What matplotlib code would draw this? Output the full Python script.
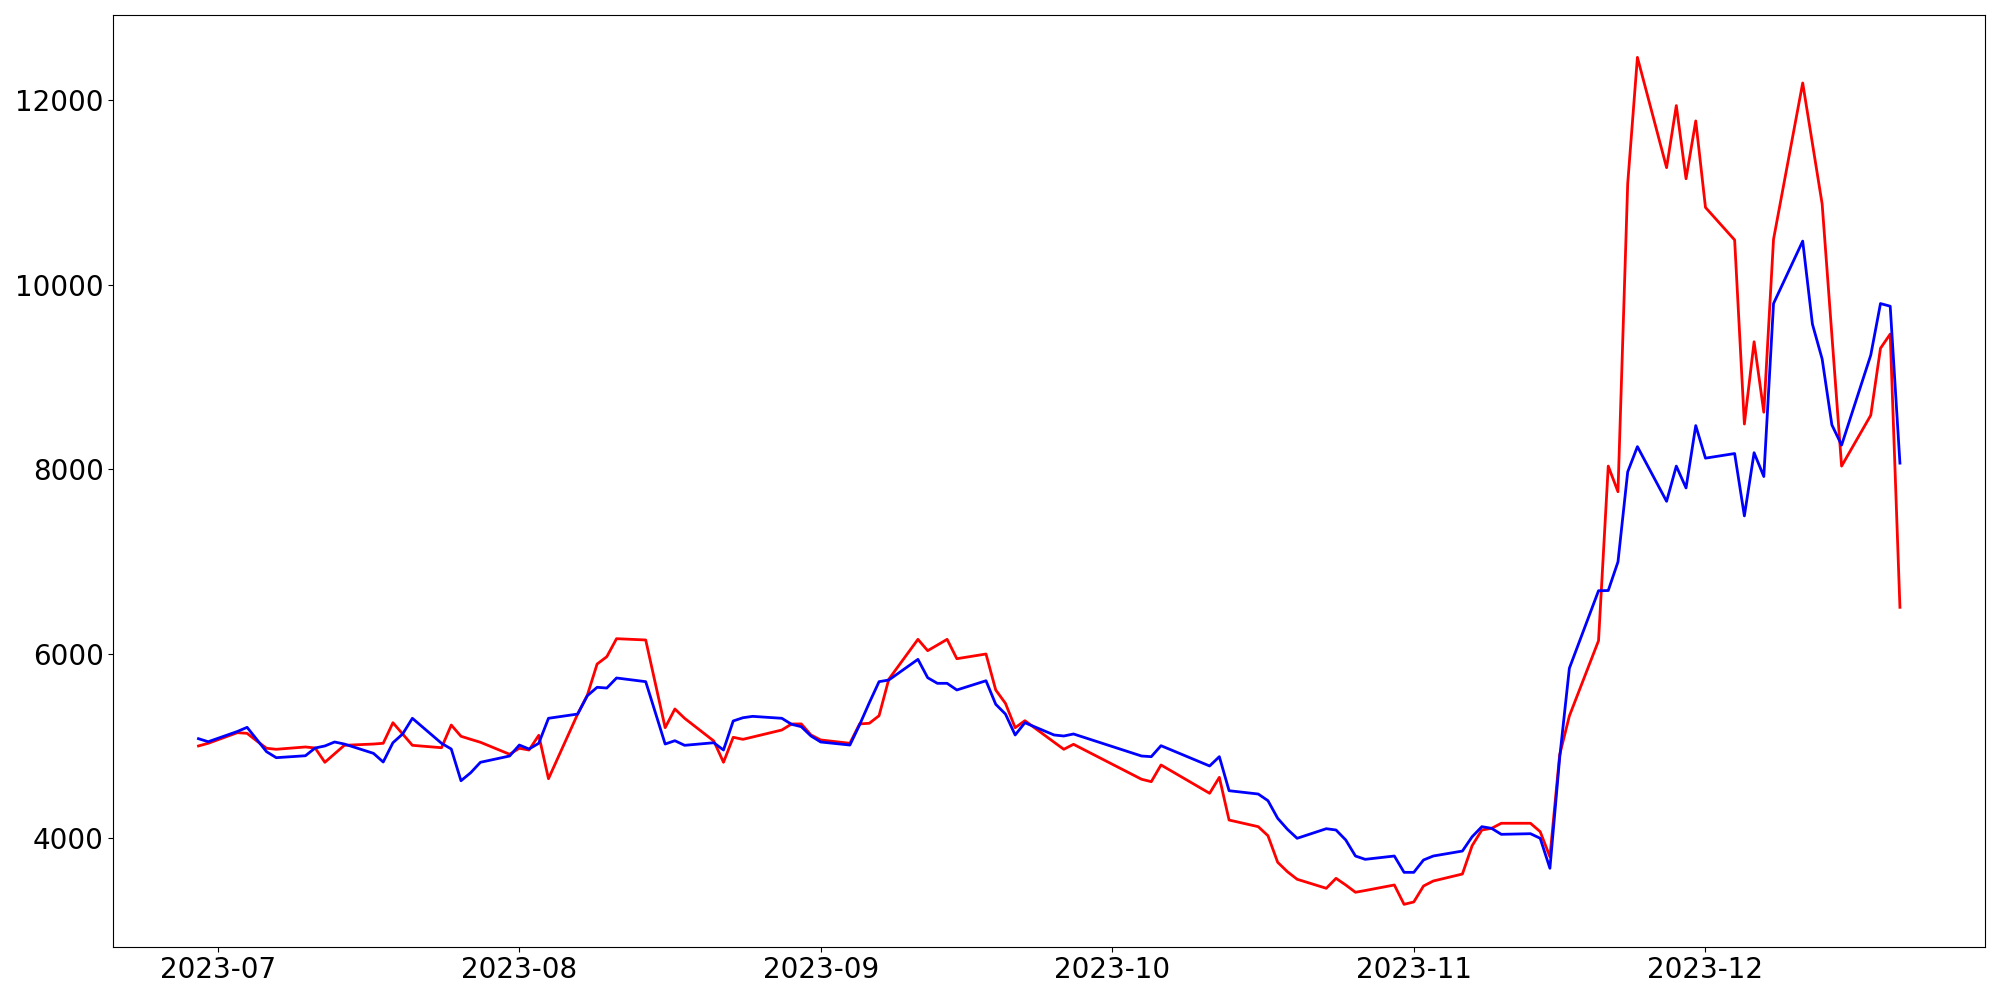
import numpy as np
import pandas as pd
import matplotlib
matplotlib.use('Agg')
import matplotlib.pyplot as plt

# trading days, with the market holidays that show up as gaps in the chart
holidays = ['2023-08-15', '2023-09-28', '2023-09-29', '2023-10-02',
            '2023-10-03', '2023-10-09', '2023-10-10']
dates = pd.bdate_range('2023-06-29', '2023-12-21')
dates = dates[~dates.isin(pd.to_datetime(holidays))]

red_jun = [5001, 5030]
red_jul = [5145, 5138, 5055, 4976, 4965, 4990, 4979, 4824, 4916, 5008, 5022,
           5030, 5253, 5131, 5008, 4982, 5228, 5106, 5073, 5041, 4911]
red_aug = [4976, 4957, 5117, 4646, 5347, 5553, 5889, 5969, 6164, 6150, 5199,
           5402, 5301, 5055, 4824, 5095, 5073, 5098, 5174, 5239, 5240, 5120]
red_sep = [5066, 5030, 5240, 5247, 5329, 5724, 6157, 6034, 6095, 6157, 5947,
           5998, 5608, 5463, 5199, 5275, 5042, 4965, 5019]
red_oct = [4640, 4614, 4795, 4488, 4661, 4198, 4126, 4028, 3740, 3638, 3556,
           3458, 3566, 3494, 3415, 3434, 3494, 3284]
red_nov = [3310, 3483, 3537, 3613, 3920, 4090, 4108, 4163, 4163, 4072, 3800,
           4903, 5326, 6142, 8035, 7757, 11096, 12466, 11270, 11943, 11150, 11777]
red_dec = [10839, 10486, 8491, 9383, 8619, 10494, 12188, 11532, 10876, 9456,
           8035, 8586, 9312, 9466, 6504]

blue_jun = [5080, 5047]
blue_jul = [5158, 5203, 5071, 4939, 4874, 4895, 4979, 5001, 5044, 5022, 4921,
            4827, 5036, 5131, 5301, 5030, 4968, 4624, 4711, 4824, 4892]
blue_aug = [5011, 4968, 5030, 5301, 5347, 5546, 5637, 5629, 5738, 5698, 5022,
            5058, 5008, 5036, 4957, 5272, 5307, 5322, 5301, 5236, 5210, 5109]
blue_sep = [5044, 5011, 5231, 5470, 5698, 5716, 5940, 5741, 5680, 5680, 5608,
            5708, 5453, 5347, 5120, 5253, 5120, 5109, 5131]
blue_oct = [4892, 4885, 5004, 4784, 4885, 4516, 4480, 4408, 4217, 4098, 4000,
            4104, 4090, 3982, 3808, 3772, 3808, 3631]
blue_nov = [3631, 3765, 3808, 3862, 4017, 4126, 4108, 4043, 4050, 4000, 3675,
            4870, 5843, 6684, 6686, 6997, 7972, 8246, 7653, 8035, 7798, 8474]
blue_dec = [8121, 8171, 7495, 8180, 7922, 9797, 10474, 9574, 9196, 8482, 8262,
            9238, 9797, 9768, 8067]

red = red_jun + red_jul + red_aug + red_sep + red_oct + red_nov + red_dec
blue = blue_jun + blue_jul + blue_aug + blue_sep + blue_oct + blue_nov + blue_dec

fig, ax = plt.subplots(figsize=(20, 10), dpi=100)
ax.plot(dates, red, color='red', linewidth=2)
ax.plot(dates, blue, color='blue', linewidth=2)

ax.tick_params(labelsize=20)
fig.subplots_adjust(left=0.0567, right=0.9925, top=0.985, bottom=0.0533)

plt.savefig('out.png')
